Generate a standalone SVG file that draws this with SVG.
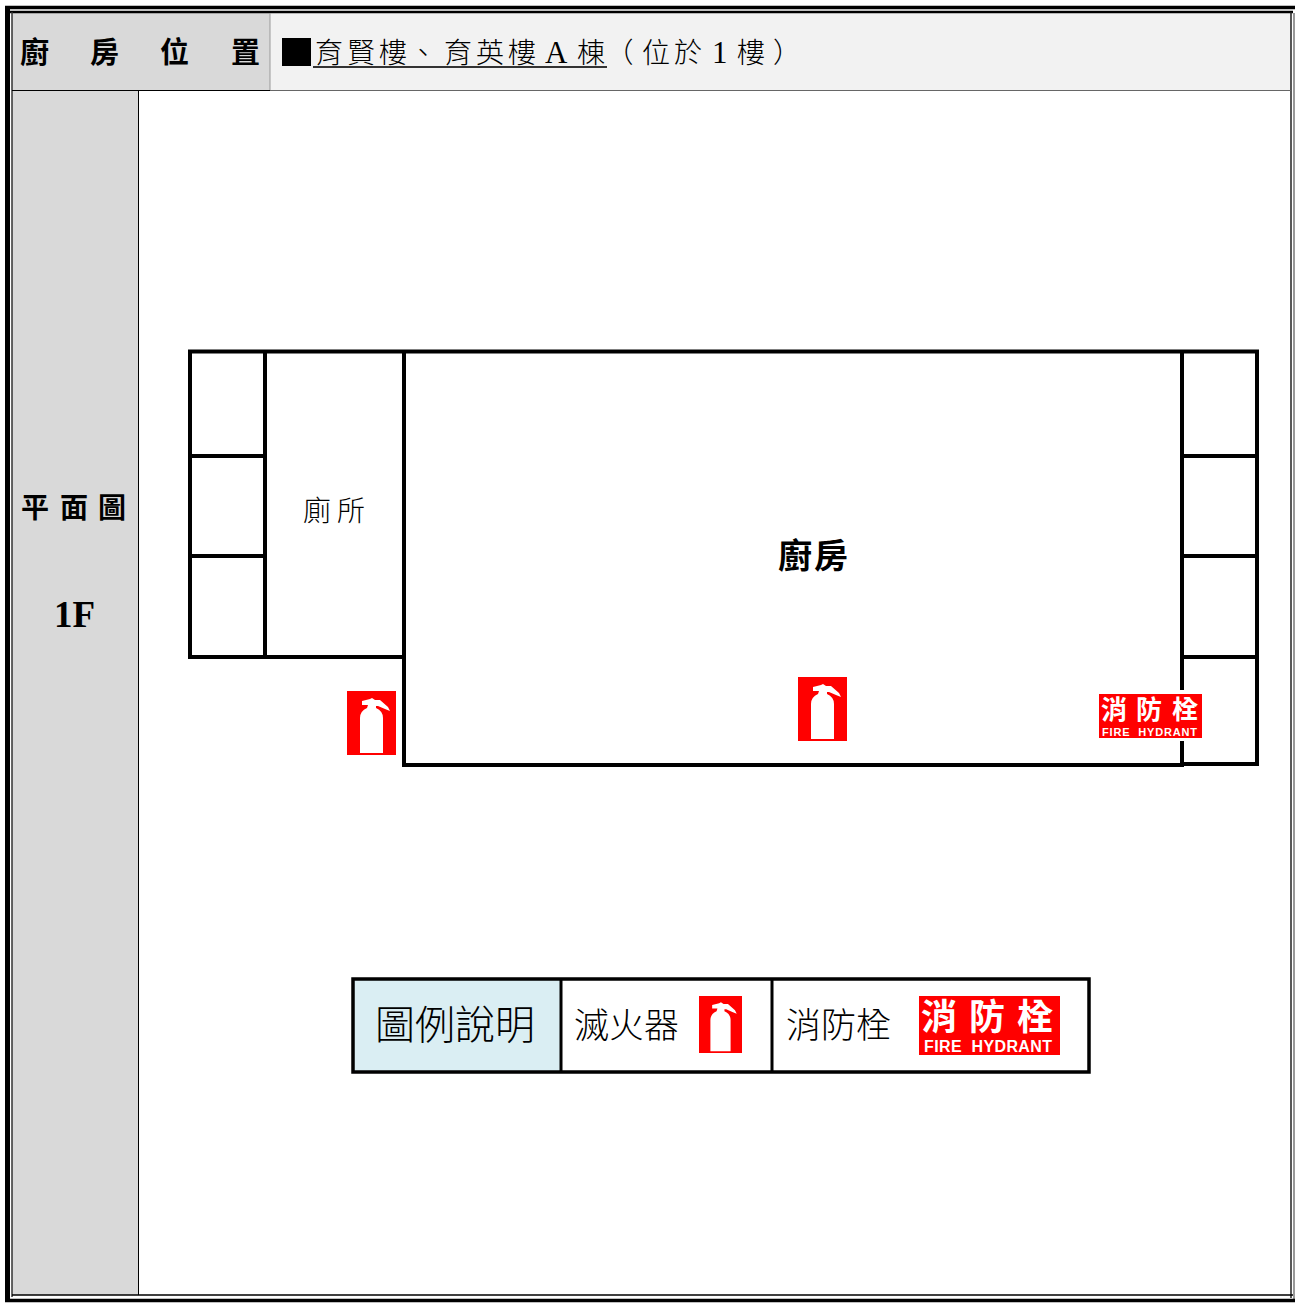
<svg xmlns="http://www.w3.org/2000/svg" width="1295" height="1303" viewBox="0 0 1295 1303">
<style>
.cjk{font-family:"Noto Sans CJK TC","Liberation Serif",sans-serif;fill:#000}
.ser{font-family:"Liberation Serif","Noto Sans CJK TC",serif;fill:#000}
.hd{font-size:29px;font-weight:700}
.sub{font-size:28px;font-weight:300}
.wall{fill:none;stroke:#000;stroke-width:4;stroke-linecap:square}
.box{fill:none;stroke:#000;stroke-width:3.5}
.sign{font-family:"Noto Sans CJK TC",sans-serif;font-weight:700;fill:#fff}
.en{font-family:"Liberation Sans",sans-serif;font-weight:700;fill:#fff;white-space:pre}
.lg{font-family:"Noto Sans CJK TC",sans-serif;font-weight:300;fill:#000;font-size:35px}
</style>
<defs>
<g id="ext">
<rect x="0" y="0" width="49" height="64" fill="#f00"/>
<path d="M13 62V27Q13 20 20 17L21 14H15V10L23 8L25 7L28 9H33L41 16L43 20L38 18L31 15L29 15V17Q36 20 36 27V62Z" fill="#fff"/>
</g>
</defs>
<rect width="1295" height="1303" fill="#fff"/>
<g id="header">
<rect x="12" y="13" width="258" height="77" fill="#d9d9d9"/>
<rect x="270" y="13" width="1021" height="77" fill="#f2f2f2"/>
<rect x="12" y="91" width="126" height="1204" fill="#d9d9d9"/>
<g id="frame">
<path d="M5 7.500H1295" stroke="#000" stroke-width="3.500" fill="none"/>
<path d="M10 12H1293" stroke="#000" stroke-width="2.500" fill="none"/>
<path d="M7.500 6V1301" stroke="#000" stroke-width="5" fill="none"/>
<path d="M12 12V1297" stroke="#333" stroke-width="1.500" fill="none"/>
<path d="M1291 12V1298" stroke="#222" stroke-width="1.500" fill="none"/>
<path d="M1294 13V1300" stroke="#777" stroke-width="1.500" fill="none"/>
<path d="M12 1295H1293" stroke="#000" stroke-width="1.500" fill="none"/>
<path d="M5 1300.500H1295" stroke="#000" stroke-width="3.500" fill="none"/>
<path d="M12 90.500H270" stroke="#000" stroke-width="1"/>
<path d="M270 90.500H1291" stroke="#666" stroke-width="1"/>
<path d="M270 13V90" stroke="#999" stroke-width="1"/>
<path d="M138.500 91V1295" stroke="#000" stroke-width="1"/>
</g>
<text class="cjk hd" x="20" y="63">廚</text>
<text class="cjk hd" x="90" y="63">房</text>
<text class="cjk hd" x="160" y="63">位</text>
<text class="cjk hd" x="231" y="63">置</text>
<rect x="282" y="38" width="29" height="28" fill="#000"/>
<text class="cjk sub" x="315" y="63" textLength="92">育賢樓</text>
<text class="cjk sub" x="409" y="63">、</text>
<text class="cjk sub" x="444" y="63" textLength="92">育英樓</text>
<text class="ser" x="545" y="63" font-size="31">A</text>
<text class="cjk sub" x="577" y="63">棟</text>
<path d="M313 67H607" stroke="#333" stroke-width="2"/>
<text class="cjk sub" x="605.500" y="63">（</text>
<text class="cjk sub" x="642" y="63" textLength="60">位於</text>
<text class="ser" x="712" y="63" font-size="31">1</text>
<text class="cjk sub" x="737" y="63">樓</text>
<text class="cjk sub" x="773" y="63">）</text>
</g>
<g id="side">
<text class="cjk" x="21" y="518" font-size="28" font-weight="700">平</text>
<text class="cjk" x="60" y="518" font-size="28" font-weight="700">面</text>
<text class="cjk" x="98" y="518" font-size="28" font-weight="700">圖</text>
<text class="ser" x="54" y="627" font-size="37" font-weight="700">1F</text>
</g>
<g id="plan">
<path class="wall" d="M190 351.500H1257V764H1182M190 351.500V657H404M265 351.500V657M190 456H265M190 556H265M404 351.500V685M1182 351.500V688M1182 743V764M1182 456H1257M1182 556H1257M1182 657H1257"/>
<rect x="341" y="686" width="61" height="76" fill="#fff"/>
<path class="wall" d="M404 685V765H1182"/>
<rect x="1098" y="688" width="82" height="55" fill="#fff"/>
</g>
<g id="toilet"><text class="cjk" x="303" y="521" font-size="28" font-weight="300" letter-spacing="6">廁所</text></g>
<g id="kitchen"><text class="cjk" x="778" y="568" font-size="34" font-weight="700" letter-spacing="2">廚房</text></g>
<use id="ext1" href="#ext" x="347" y="691"/>
<use id="ext2" href="#ext" x="798" y="677"/>
<g id="hydrant">
<rect x="1099" y="694" width="103" height="44" fill="#f00"/>
<text class="sign" x="1101" y="718.500" font-size="26">消</text>
<text class="sign" x="1136" y="718.500" font-size="26">防</text>
<text class="sign" x="1172" y="718.500" font-size="26">栓</text>
<text class="en" x="1102" y="735.500" font-size="11" textLength="95">FIRE  HYDRANT</text>
</g>
<g id="legend">
<rect x="353" y="979" width="208" height="93" fill="#daeef3"/>
<rect class="box" x="353" y="979" width="736" height="93"/>
<path d="M561 979V1072M772 979V1072" stroke="#000" stroke-width="3"/>
<text class="lg" x="375" y="1039" style="font-size:40px">圖例說明</text>
<text class="lg" x="574" y="1038">滅火器</text>
<svg x="699" y="996" width="43" height="57" viewBox="0 0 49 64" preserveAspectRatio="none"><use href="#ext"/></svg>
<text class="lg" x="786" y="1038">消防栓</text>
<rect x="919" y="996" width="141" height="59" fill="#f00"/>
<text class="sign" x="921" y="1030" font-size="36">消</text>
<text class="sign" x="969" y="1030" font-size="36">防</text>
<text class="sign" x="1017" y="1030" font-size="36">栓</text>
<text class="en" x="924" y="1052" font-size="16" textLength="128">FIRE  HYDRANT</text>
</g>
</svg>
